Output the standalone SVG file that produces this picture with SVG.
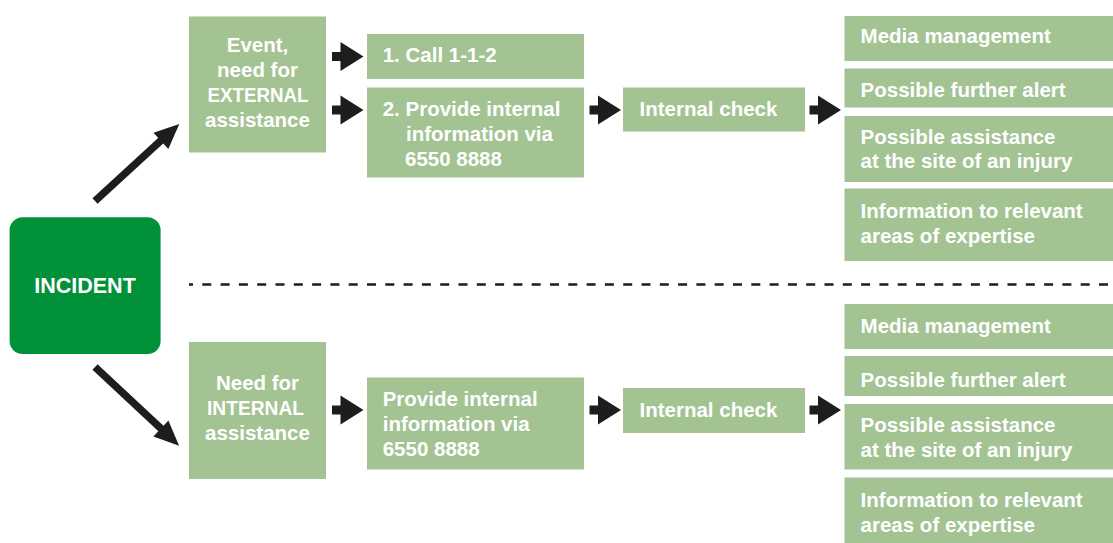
<svg xmlns="http://www.w3.org/2000/svg" width="1113" height="543" viewBox="0 0 1113 543">
<style>
.box{fill:#A3C393}
.inc{fill:#009139}
.t{font-family:"Liberation Sans",Arial,sans-serif;font-weight:bold;font-size:20.5px;fill:#FFFFFF}
.c{text-anchor:middle}
.arr{fill:#1D1D1B}
.shaft{stroke:#1D1D1B;stroke-width:7.5;fill:none}
.dash{stroke:#1D1D1B;stroke-width:2.6;stroke-dasharray:9 9.3;stroke-dashoffset:5}
</style>
<defs>
<path id="blk" d="M0,-4.5 H8.5 V-14.5 L31.5,0 L8.5,14.5 V4.5 H0 Z"/>
</defs>
<rect width="1113" height="543" fill="#FFFFFF"/>

<g id="connectors">
<line class="shaft" x1="95" y1="201" x2="162" y2="139.5"/>
<polygon class="arr" points="179.3,124 153.5,132.8 168.3,149"/>
<line class="shaft" x1="95" y1="367" x2="162" y2="429.5"/>
<polygon class="arr" points="179.1,445.7 168.4,420.6 153.4,436.6"/>
<use href="#blk" class="arr" x="332" y="56.5"/>
<use href="#blk" class="arr" x="332" y="110"/>
<use href="#blk" class="arr" x="589.5" y="110"/>
<use href="#blk" class="arr" x="809.5" y="110"/>
<use href="#blk" class="arr" x="332" y="410"/>
<use href="#blk" class="arr" x="589.5" y="410"/>
<use href="#blk" class="arr" x="809.5" y="410"/>
<line class="dash" x1="189" y1="284.5" x2="1113" y2="284.5"/>
</g>

<g id="incident">
<rect class="inc" x="9.6" y="217.3" width="151" height="136.7" rx="13"/>
<text class="t c" x="85" y="293" style="font-size:21.5px">INCIDENT</text>
</g>

<g id="event-external">
<rect class="box" x="189" y="16.5" width="137" height="136"/>
<text class="t c" x="257.5" y="51.5">Event,</text>
<text class="t c" x="257.5" y="76.5">need for</text>
<text class="t c" x="258" y="101.5" textLength="101" lengthAdjust="spacingAndGlyphs">EXTERNAL</text>
<text class="t c" x="257.5" y="127">assistance</text>
</g>

<g id="call-112">
<rect class="box" x="367" y="34" width="217" height="45"/>
<text class="t" x="382.7" y="61.7">1. Call 1-1-2</text>
</g>

<g id="provide-ext">
<rect class="box" x="367" y="87.5" width="217" height="90"/>
<text class="t" x="382.7" y="116">2. Provide internal</text>
<text class="t" x="406" y="140.7">information via</text>
<text class="t" x="405" y="166">6550 8888</text>
</g>

<g id="check-ext">
<rect class="box" x="623" y="87.5" width="182" height="44"/>
<text class="t" x="639.5" y="116">Internal check</text>
</g>

<g id="media-ext">
<rect class="box" x="844.5" y="16" width="269" height="45"/>
<text class="t" x="860.6" y="43.3">Media management</text>
</g>
<g id="alert-ext">
<rect class="box" x="844.5" y="68.5" width="269" height="39"/>
<text class="t" x="860.6" y="96.7">Possible further alert</text>
</g>
<g id="assist-ext">
<rect class="box" x="844.5" y="116" width="269" height="66"/>
<text class="t" x="860.6" y="144">Possible assistance</text>
<text class="t" x="860.6" y="168.3">at the site of an injury</text>
</g>
<g id="info-ext">
<rect class="box" x="844.5" y="188.5" width="269" height="72.5"/>
<text class="t" x="860.6" y="218.3">Information to relevant</text>
<text class="t" x="860.6" y="243.3">areas of expertise</text>
</g>

<g id="need-internal">
<rect class="box" x="189" y="342" width="137" height="137"/>
<text class="t c" x="257.5" y="390">Need for</text>
<text class="t c" x="255.5" y="415" textLength="97" lengthAdjust="spacingAndGlyphs">INTERNAL</text>
<text class="t c" x="257.5" y="440">assistance</text>
</g>

<g id="provide-int">
<rect class="box" x="367" y="377.5" width="217" height="92"/>
<text class="t" x="382.7" y="406">Provide internal</text>
<text class="t" x="382.7" y="431">information via</text>
<text class="t" x="382.7" y="456">6550 8888</text>
</g>

<g id="check-int">
<rect class="box" x="623" y="388" width="182" height="45"/>
<text class="t" x="639.5" y="416.7">Internal check</text>
</g>

<g id="media-int">
<rect class="box" x="844.5" y="304" width="269" height="45"/>
<text class="t" x="860.6" y="332.7">Media management</text>
</g>
<g id="alert-int">
<rect class="box" x="844.5" y="356" width="269" height="40"/>
<text class="t" x="860.6" y="386.7">Possible further alert</text>
</g>
<g id="assist-int">
<rect class="box" x="844.5" y="404" width="269" height="65.5"/>
<text class="t" x="860.6" y="432.3">Possible assistance</text>
<text class="t" x="860.6" y="456.7">at the site of an injury</text>
</g>
<g id="info-int">
<rect class="box" x="844.5" y="477.5" width="269" height="66"/>
<text class="t" x="860.6" y="507.3">Information to relevant</text>
<text class="t" x="860.6" y="532.3">areas of expertise</text>
</g>
</svg>
